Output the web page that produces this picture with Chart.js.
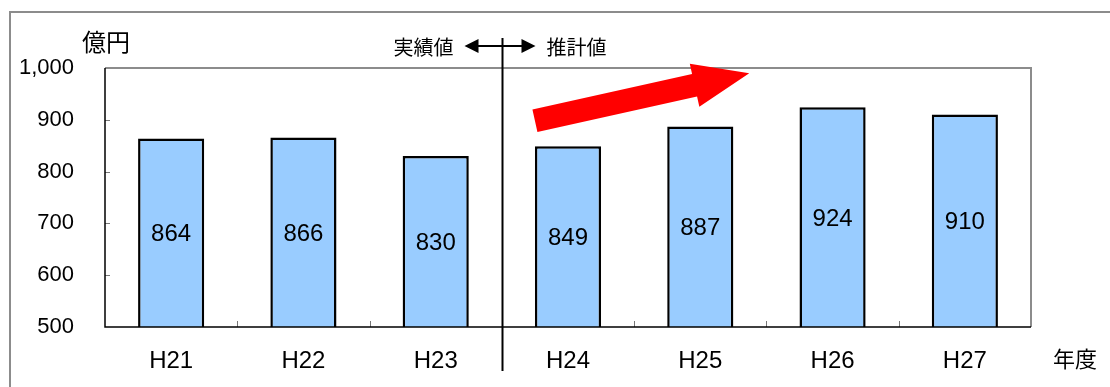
<!DOCTYPE html>
<html>
<head>
<meta charset="utf-8">
<script src="https://cdn.jsdelivr.net/npm/chart.js@4/dist/chart.umd.min.js"></script>
<style>
  html, body { margin: 0; padding: 0; background: #fff; }
  #wrap { width: 1110px; height: 387px; position: relative; }
</style>
</head>
<body>
<div id="wrap"><canvas id="bar"></canvas></div>
<script>
var years = ["H21", "H22", "H23", "H24", "H25", "H26", "H27"];
var amounts = [864, 866, 830, 849, 887, 924, 910];
var yTicks = [500, 600, 700, 800, 900, 1000];

var latin = "'Liberation Sans', Arial, sans-serif";
var cjk = "'Noto Sans CJK JP', sans-serif";

// frame, inner ticks, divider, arrows and captions
var overlay = {
  id: "overlay",
  beforeDatasetsDraw: function (chart) {
    var ctx = chart.ctx, a = chart.chartArea, x = chart.scales.x, y = chart.scales.y;
    ctx.save();
    // outer frame
    ctx.strokeStyle = "#8c8c8c";
    ctx.lineWidth = 2;
    ctx.beginPath();
    ctx.moveTo(10, 387);
    ctx.lineTo(10, 12);
    ctx.lineTo(1110, 12);
    ctx.stroke();
    // plot box: gray top / right
    ctx.beginPath();
    ctx.moveTo(a.left, a.top);
    ctx.lineTo(a.right, a.top);
    ctx.lineTo(a.right, a.bottom);
    ctx.stroke();
    // y ticks pointing inward
    ctx.strokeStyle = "#777";
    ctx.lineWidth = 1;
    yTicks.forEach(function (v) {
      if (v === 500 || v === 1000) return;
      var py = Math.round(y.getPixelForValue(v)) + 0.5;
      ctx.beginPath();
      ctx.moveTo(a.left, py);
      ctx.lineTo(a.left + 5, py);
      ctx.stroke();
    });
    // x ticks between categories
    for (var i = 0; i < years.length - 1; i++) {
      var px = Math.round(x.getPixelForValue(i + 0.5)) + 0.5;
      ctx.beginPath();
      ctx.moveTo(px, a.bottom);
      ctx.lineTo(px, a.bottom - 6);
      ctx.stroke();
    }
    ctx.restore();
  },
  afterDatasetsDraw: function (chart) {
    var ctx = chart.ctx, a = chart.chartArea, x = chart.scales.x, y = chart.scales.y;
    ctx.save();

    // black axes
    ctx.strokeStyle = "#000";
    ctx.lineWidth = 1.5;
    ctx.beginPath();
    ctx.moveTo(a.left, a.top);
    ctx.lineTo(a.left, a.bottom);
    ctx.lineTo(a.right, a.bottom);
    ctx.stroke();

    // value labels in the middle of each bar
    ctx.fillStyle = "#000";
    ctx.font = "24px " + latin;
    ctx.textAlign = "center";
    ctx.textBaseline = "middle";
    chart.getDatasetMeta(0).data.forEach(function (bar, i) {
      var top = y.getPixelForValue(amounts[i]);
      ctx.fillText(String(amounts[i]), bar.x, (top + a.bottom) / 2 + 2);
    });

    // divider between actual and estimated years
    var lx = Math.round(x.getPixelForValue(2.5)) + 0.5;
    ctx.strokeStyle = "#000";
    ctx.lineWidth = 2;
    ctx.beginPath();
    ctx.moveTo(lx, 38);
    ctx.lineTo(lx, 371);
    ctx.stroke();

    // double arrow
    var ay = 46;
    ctx.lineWidth = 2;
    ctx.beginPath();
    ctx.moveTo(lx - 26, ay);
    ctx.lineTo(lx + 24, ay);
    ctx.stroke();
    ctx.fillStyle = "#000";
    ctx.beginPath();
    ctx.moveTo(lx - 38, ay);
    ctx.lineTo(lx - 24, ay - 7);
    ctx.lineTo(lx - 24, ay + 7);
    ctx.closePath();
    ctx.fill();
    ctx.beginPath();
    ctx.moveTo(lx + 33, ay);
    ctx.lineTo(lx + 19, ay - 7);
    ctx.lineTo(lx + 19, ay + 7);
    ctx.closePath();
    ctx.fill();

    ctx.font = "20px " + cjk;
    ctx.textBaseline = "middle";
    ctx.textAlign = "right";
    ctx.fillText("実績値", lx - 49, ay + 1);
    ctx.textAlign = "left";
    ctx.fillText("推計値", lx + 44, ay + 1);

    // units
    ctx.font = "24px " + cjk;
    ctx.textAlign = "left";
    ctx.fillText("億円", 82, 42);
    ctx.font = "22px " + cjk;
    ctx.fillText("年度", 1053, 359);

    // red trend arrow
    var p0 = { x: x.getPixelForValue(2.75), y: y.getPixelForValue(898) };
    var p1 = { x: x.getPixelForValue(4.37), y: y.getPixelForValue(990) };
    var dx = p1.x - p0.x, dy = p1.y - p0.y, len = Math.hypot(dx, dy);
    var ux = dx / len, uy = dy / len, nx = -uy, ny = ux;
    var shaft = 11.5, head = 22, headLen = 56;
    var bx = p1.x - ux * headLen, by = p1.y - uy * headLen;
    ctx.fillStyle = "#ff0000";
    ctx.beginPath();
    ctx.moveTo(p0.x + nx * shaft, p0.y + ny * shaft);
    ctx.lineTo(bx + nx * shaft, by + ny * shaft);
    ctx.lineTo(bx + nx * head, by + ny * head);
    ctx.lineTo(p1.x, p1.y);
    ctx.lineTo(bx - nx * head, by - ny * head);
    ctx.lineTo(bx - nx * shaft, by - ny * shaft);
    ctx.lineTo(p0.x - nx * shaft, p0.y - ny * shaft);
    ctx.closePath();
    ctx.fill();

    ctx.restore();
  }
};

new Chart(document.getElementById("bar"), {
  type: "bar",
  data: {
    labels: years,
    datasets: [
      {
        data: amounts,
        backgroundColor: "#99ccff",
        borderColor: "#000",
        borderWidth: 2.5,
        borderSkipped: false,
        barPercentage: 1,
        categoryPercentage: 0.5,
      },
    ],
  },
  options: {
    responsive: true,
    maintainAspectRatio: false,
    animation: false,
    layout: { padding: { left: 0, top: 68, right: 79, bottom: 0 } },
    plugins: { legend: { display: false }, tooltip: { enabled: false } },
    scales: {
      x: {
        grid: { display: false, drawTicks: false },
        border: { display: false },
        ticks: { color: "#000", font: { family: latin, size: 24 }, padding: 20 },
        afterFit: function (s) { s.height = 60; },
      },
      y: {
        min: 500,
        max: 1000,
        grid: { display: false, drawTicks: false },
        border: { display: false },
        afterBuildTicks: function (s) {
          s.ticks = yTicks.map(function (v) { return { value: v }; });
        },
        ticks: {
          color: "#000",
          font: { family: latin, size: 22 },
          padding: 31,
          callback: function (v) { return v.toLocaleString("en-US"); },
        },
        afterFit: function (s) { s.width = 105; },
      },
    },
  },
  plugins: [overlay],
});
</script>
</body>
</html>
